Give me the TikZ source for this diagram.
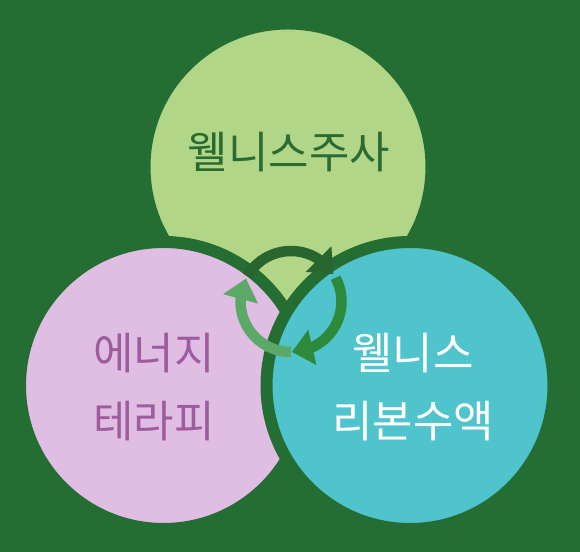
\documentclass[tikz,border=0pt]{standalone}
\usepackage{fontspec}
\setmainfont{Noto Sans CJK KR}
\usetikzlibrary{arrows.meta,bending}

\definecolor{bggreen}{HTML}{246E33}
\definecolor{topgreen}{HTML}{B2D687}
\definecolor{pinkish}{HTML}{E0BEE4}
\definecolor{cyanish}{HTML}{50C4CD}
\definecolor{topink}{HTML}{2A6B32}
\definecolor{purpleink}{HTML}{9E5C9E}
\definecolor{arrdark}{HTML}{29652F}
\definecolor{arrmid}{HTML}{2E8A3B}
\definecolor{arrlight}{HTML}{5CA866}

\begin{document}
\begin{tikzpicture}[
    ball/.style={draw=bggreen, line width=0.24cm},
    venntext/.style={font=\fontsize{25}{39}\selectfont, align=center, inner sep=0pt},
    ring/.style={line width=0.21cm, -{Triangle[width=0.7cm, length=0.42cm]}}
]
    \fill[bggreen] (0,0) rectangle (11.6,11.04);

    \filldraw[ball, fill=topgreen] (5.76,7.70) circle [radius=2.87];
    \filldraw[ball, fill=pinkish] (3.27,3.33) circle [radius=2.87];
    \filldraw[ball, fill=cyanish] (8.20,3.33) circle [radius=2.87];

    \node[venntext, text=topink] (shot) at (5.78,8.00) {웰니스주사};
    \node[venntext, text=purpleink] (energy) at (3.08,3.30) {에너지\\테라피};
    \node[venntext, text=white] (ribbon) at (8.26,3.30) {웰니스\\리본수액};

    % cycle arrows in the middle
    \coordinate (hub) at (5.82,5.01);
    \foreach \s/\c in {150/arrdark,-90/arrlight,28/arrmid}{
        \draw[ring, \c] (hub) ++(\s:1.01) arc [start angle=\s, end angle=\s-117, radius=1.01];
    }
\end{tikzpicture}
\end{document}
